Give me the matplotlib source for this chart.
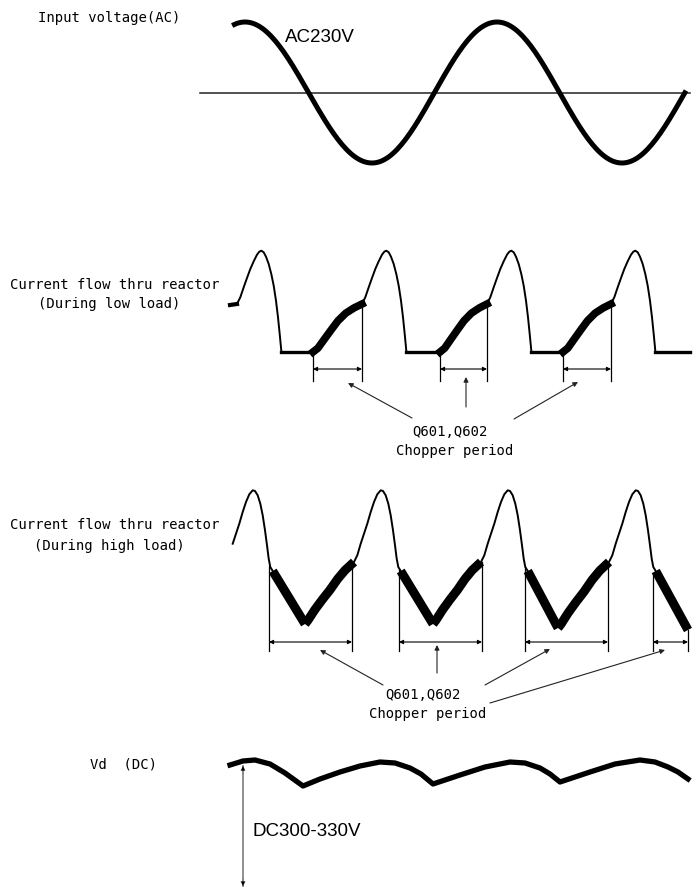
import numpy as np
import matplotlib
matplotlib.use("Agg")
import matplotlib.pyplot as plt

# --- values (pixel space, y grows downwards) ---

# AC input: extrema of the sine and the zero line
AC_EXT_X = [119, 245, 372, 497, 622, 748]
AC_EXT_Y = [163, 22, 163, 22, 163, 22]
AC_X_RANGE = (232, 688)
AC_ZERO_Y = 93
AC_ZERO_X = (200, 690)

# low load reactor current
LOW_HUMP_START_X = [237, 362, 487, 611]
LOW_HUMP_START_Y = 304
LOW_HUMP_DX = [0, 3.3, 6.7, 10, 13.3, 16.7, 20, 22.3, 24.3, 26.7, 29, 31.7,
               34.3, 36.7, 39, 41, 42.7, 44.3]
LOW_HUMP_DY = [0, -6.7, -16.7, -26, -35, -42.7, -49.3, -52.3, -53.3, -51.7,
               -47.3, -40, -30, -18.3, -3.3, 13.3, 30, 46.7]
LOW_FLAT_Y = 352
LOW_RAMP_START_X = [313, 440, 563]
LOW_RAMP_FX = [0, 0.10, 0.22, 0.37, 0.51, 0.67, 0.84, 1.0]
LOW_RAMP_FY = [0, 0.08, 0.25, 0.46, 0.65, 0.81, 0.92, 1.0]
LOW_LEFT_EDGE = (230, 305)
LOW_RIGHT_END_X = 690

# high load reactor current
HIGH_HUMP_START_X = [226, 354, 481, 609]
HIGH_HUMP_START_Y = 562
HIGH_HUMP_DX = [0, 3.3, 6.7, 10, 13.3, 16.7, 20, 23.3, 26.7, 29, 31.7, 34.3,
                36.7, 39, 41, 42.7, 44.3, 46.7]
HIGH_HUMP_DY = [0, -6.7, -18.3, -28.3, -38.3, -50, -60, -67.7, -71.7, -71,
                -66.7, -58.3, -46.7, -31.7, -16.7, -3.3, 5, 9]
HIGH_TROUGH_X = [305, 433, 558]
HIGH_TROUGH_Y = [624, 624, 628]
HIGH_RISE_FX = [0, 0.06, 0.20, 0.35, 0.51, 0.67, 0.82, 1.0]
HIGH_RISE_FY = [0, 0.06, 0.23, 0.39, 0.55, 0.73, 0.87, 1.0]
HIGH_TAIL_END = (688, 630)

# chopper period markers: (left x, right x, left top y, right top y)
LOW_MARKS = [(313, 362, 352, 304), (440, 487, 352, 304), (563, 611, 352, 304)]
LOW_MARK_Y, LOW_MARK_BOTTOM = 369, 381
HIGH_MARKS = [(269, 352, 566, 562), (399, 482, 570, 562),
              (525, 608, 567, 562), (653, 688, 573, 630)]
HIGH_MARK_Y, HIGH_MARK_BOTTOM = 642, 651

# pointer arrows from the "Q601,Q602" captions: (from x, from y, to x, to y)
LOW_POINTERS = [(412, 418, 348, 383), (466, 407, 466, 377), (514, 419, 578, 382)]
HIGH_POINTERS = [(383, 685, 320, 650), (437, 673, 437, 645),
                 (485, 685, 550, 649), (490, 703, 665, 650)]

# DC bus voltage
DC_X = [230, 243, 255, 270, 285, 303, 320, 340, 360, 380, 395, 410, 421, 433,
        460, 485, 510, 525, 540, 550, 560, 590, 615, 640, 655, 668, 678, 688]
DC_Y = [765, 761, 760, 764, 773, 786, 779, 772, 766, 762, 763, 768, 774, 784,
        775, 767, 762, 763, 768, 774, 782, 772, 764, 760, 762, 767, 772, 779]
DC_ARROW_X = 243
DC_ARROW_Y = (766, 886)

LABELS = [
    ("Input voltage(AC)", 38, 18),
    ("Current flow thru reactor", 10, 285),
    ("(During low load)", 38, 304),
    ("Current flow thru reactor", 10, 525),
    ("(During high load)", 34, 546),
    ("Vd  (DC)", 90, 765),
]
CAPTIONS = [
    ("Q601,Q602", 450, 432),
    ("Chopper period", 455, 451),
    ("Q601,Q602", 423, 695),
    ("Chopper period", 428, 714),
]

sans = "Liberation Sans"
mono = "DejaVu Sans Mono"
k = "black"

fig = plt.figure(figsize=(6.99, 8.90), dpi=100)
ax = fig.add_axes([0, 0, 1, 1])
ax.set_xlim(0, 699)
ax.set_ylim(890, 0)
ax.axis("off")

# AC sine: half-cosine between successive extrema
xs, ys = [], []
for i in range(len(AC_EXT_X) - 1):
    t = np.linspace(0, 1, 60)
    x = AC_EXT_X[i] + (AC_EXT_X[i + 1] - AC_EXT_X[i]) * t
    y = AC_EXT_Y[i] + (AC_EXT_Y[i + 1] - AC_EXT_Y[i]) * (1 - np.cos(np.pi * t)) / 2
    xs.append(x)
    ys.append(y)
xs = np.concatenate(xs)
ys = np.concatenate(ys)
keep = (xs >= AC_X_RANGE[0]) & (xs <= AC_X_RANGE[1])
ax.plot(AC_ZERO_X, [AC_ZERO_Y, AC_ZERO_Y], color="#222222", lw=1.1)
ax.plot(xs[keep], ys[keep], color=k, lw=3.6, solid_capstyle="butt")
ax.text(285, 37, "AC230V", fontsize=13.5, family=sans, va="center", ha="left")

# low load current
ax.plot([LOW_LEFT_EDGE[0], LOW_HUMP_START_X[0]],
        [LOW_LEFT_EDGE[1], LOW_HUMP_START_Y], color=k, lw=3)
for i, hx in enumerate(LOW_HUMP_START_X):
    px = hx + np.array(LOW_HUMP_DX)
    py = LOW_HUMP_START_Y + np.array(LOW_HUMP_DY)
    ax.plot(px, py, color=k, lw=1.4, solid_joinstyle="round")
    end_x = px[-1]
    if i < len(LOW_RAMP_START_X):
        rx = LOW_RAMP_START_X[i]
        ax.plot([end_x, rx], [LOW_FLAT_Y, LOW_FLAT_Y], color=k, lw=2.4)
        nx = LOW_HUMP_START_X[i + 1]
        rpx = rx + (nx - rx) * np.array(LOW_RAMP_FX)
        rpy = LOW_FLAT_Y + (LOW_HUMP_START_Y - LOW_FLAT_Y) * np.array(LOW_RAMP_FY)
        ax.plot(rpx, rpy, color=k, lw=5.5, solid_joinstyle="round")
    else:
        ax.plot([end_x, LOW_RIGHT_END_X], [LOW_FLAT_Y, LOW_FLAT_Y], color=k, lw=2.4)

# high load current
for i, hx in enumerate(HIGH_HUMP_START_X):
    px = hx + np.array(HIGH_HUMP_DX)
    py = HIGH_HUMP_START_Y + np.array(HIGH_HUMP_DY)
    m = px >= 230
    ax.plot(px[m], py[m], color=k, lw=1.4, solid_joinstyle="round")
    ex, ey = px[-1], py[-1]
    if i < len(HIGH_TROUGH_X):
        tx, ty = HIGH_TROUGH_X[i], HIGH_TROUGH_Y[i]
        ax.plot([ex, tx], [ey, ty], color=k, lw=6.5, solid_capstyle="butt")
        nx = HIGH_HUMP_START_X[i + 1]
        rpx = tx + (nx - tx) * np.array(HIGH_RISE_FX)
        rpy = ty + (HIGH_HUMP_START_Y - ty) * np.array(HIGH_RISE_FY)
        ax.plot(rpx, rpy, color=k, lw=6.5, solid_joinstyle="round",
                solid_capstyle="butt")
    else:
        ax.plot([ex, HIGH_TAIL_END[0]], [ey, HIGH_TAIL_END[1]], color=k,
                lw=6.5, solid_capstyle="butt")


# chopper period markers
def markers(marks, ym, bottom):
    for x0, x1, t0, t1 in marks:
        ax.plot([x0, x0], [t0, bottom], color=k, lw=0.9)
        ax.plot([x1, x1], [t1, bottom], color=k, lw=0.9)
        ax.annotate("", xy=(x1, ym), xytext=(x0, ym),
                    arrowprops=dict(arrowstyle="<|-|>", mutation_scale=6,
                                    lw=0.8, color=k, shrinkA=0, shrinkB=0))


markers(LOW_MARKS, LOW_MARK_Y, LOW_MARK_BOTTOM)
markers(HIGH_MARKS, HIGH_MARK_Y, HIGH_MARK_BOTTOM)

for fx, fy, tx, ty in LOW_POINTERS + HIGH_POINTERS:
    ax.annotate("", xy=(tx, ty), xytext=(fx, fy),
                arrowprops=dict(arrowstyle="-|>", mutation_scale=7, lw=0.8,
                                color="#222222", shrinkA=0, shrinkB=0))

# DC bus voltage
ax.plot(DC_X, DC_Y, color=k, lw=3.8, solid_joinstyle="round")
ax.plot([DC_ARROW_X, DC_ARROW_X], DC_ARROW_Y, color="#888888", lw=1.3)
for tip, tail in ((DC_ARROW_Y[0], DC_ARROW_Y[0] + 8),
                  (DC_ARROW_Y[1], DC_ARROW_Y[1] - 8)):
    ax.annotate("", xy=(DC_ARROW_X, tip), xytext=(DC_ARROW_X, tail),
                arrowprops=dict(arrowstyle="-|>", mutation_scale=8, lw=0.1,
                                color=k, shrinkA=0, shrinkB=0))
ax.text(253, 832, "DC300-330V", fontsize=13.5, family=sans, va="center", ha="left")

for s, x, y in LABELS:
    ax.text(x, y, s, fontsize=10, family=mono, va="center", ha="left")
for s, x, y in CAPTIONS:
    ax.text(x, y, s, fontsize=10, family=mono, va="center", ha="center")

fig.savefig("out.png", dpi=100)
